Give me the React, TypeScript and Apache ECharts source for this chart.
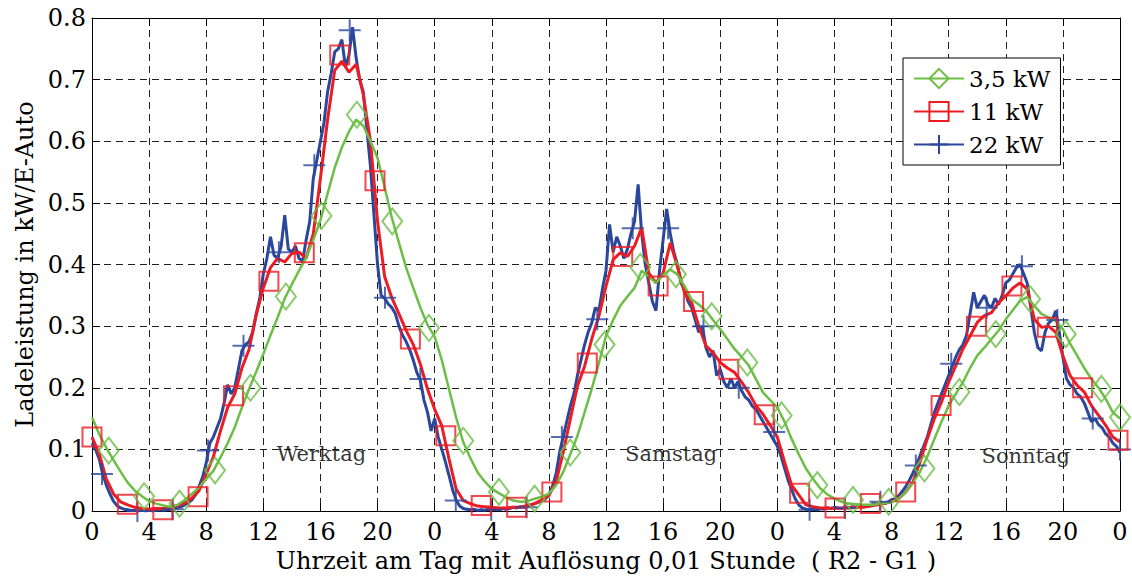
import React, { useEffect, useRef } from 'react';
import * as echarts from 'echarts';

// ---- time grids (hours over three days) ----
const hoursHalf: number[] = Array.from({ length: 145 }, (_, i) => i * 0.5);
const hoursQuarter: number[] = Array.from({ length: 289 }, (_, i) => i * 0.25);

// ---- 3,5 kW (green), 0.5 h steps ----
const green35: number[] = [
  0.152, 0.125, 0.103, 0.083, 0.064, 0.046, 0.033, 0.024,
  0.016, 0.012, 0.009, 0.007, 0.010, 0.018, 0.028, 0.038,
  0.052, 0.065, 0.087, 0.110, 0.136, 0.168, 0.198, 0.226,
  0.255, 0.285, 0.314, 0.345, 0.368, 0.390, 0.411, 0.440,
  0.472, 0.515, 0.557, 0.590, 0.616, 0.635, 0.625, 0.600,
  0.573, 0.525, 0.476, 0.435, 0.395, 0.362, 0.330, 0.302,
  0.283, 0.245, 0.198, 0.152, 0.112, 0.086, 0.063, 0.048,
  0.036, 0.029, 0.022, 0.017, 0.015, 0.016, 0.020, 0.023,
  0.028, 0.042, 0.063, 0.092, 0.122, 0.160, 0.198, 0.240,
  0.284, 0.310, 0.333, 0.348, 0.362, 0.390, 0.380, 0.370,
  0.383, 0.392, 0.384, 0.365, 0.343, 0.335, 0.325, 0.310,
  0.295, 0.279, 0.263, 0.250, 0.236, 0.214, 0.192, 0.180,
  0.168, 0.145, 0.117, 0.092, 0.069, 0.052, 0.037, 0.027,
  0.020, 0.015, 0.012, 0.011, 0.010, 0.010, 0.011, 0.013,
  0.014, 0.020, 0.031, 0.046, 0.064, 0.088, 0.117, 0.145,
  0.171, 0.190, 0.209, 0.232, 0.252, 0.265, 0.279, 0.293,
  0.311, 0.326, 0.341, 0.347, 0.333, 0.320, 0.314, 0.308,
  0.295, 0.272, 0.252, 0.232, 0.214, 0.200, 0.182, 0.160,
  0.150,
];

// ---- 11 kW (red), 0.5 h steps ----
const red11: number[] = [
  0.120, 0.093, 0.052, 0.028, 0.015, 0.010, 0.006, 0.004,
  0.003, 0.004, 0.004, 0.006, 0.009, 0.013, 0.021, 0.033,
  0.060, 0.088, 0.130, 0.168, 0.190, 0.232, 0.262, 0.318,
  0.362, 0.395, 0.410, 0.404, 0.418, 0.420, 0.410, 0.450,
  0.540, 0.635, 0.715, 0.730, 0.712, 0.725, 0.676, 0.600,
  0.470, 0.380, 0.346, 0.320, 0.293, 0.270, 0.238, 0.198,
  0.165, 0.138, 0.085, 0.036, 0.017, 0.012, 0.008, 0.007,
  0.006, 0.005, 0.005, 0.006, 0.006, 0.009, 0.012, 0.018,
  0.025, 0.047, 0.095, 0.149, 0.203, 0.235, 0.279, 0.316,
  0.365, 0.408, 0.419, 0.413, 0.430, 0.460, 0.386, 0.370,
  0.386, 0.435, 0.397, 0.354, 0.338, 0.300, 0.268, 0.257,
  0.241, 0.232, 0.225, 0.209, 0.192, 0.171, 0.157, 0.139,
  0.120, 0.080, 0.042, 0.026, 0.010, 0.007, 0.005, 0.005,
  0.004, 0.005, 0.005, 0.006, 0.006, 0.008, 0.010, 0.012,
  0.015, 0.020, 0.031, 0.047, 0.080, 0.117, 0.150, 0.177,
  0.209, 0.236, 0.263, 0.284, 0.306, 0.317, 0.322, 0.338,
  0.349, 0.362, 0.370, 0.360, 0.311, 0.298, 0.300, 0.290,
  0.252, 0.220, 0.204, 0.193, 0.171, 0.155, 0.139, 0.120,
  0.112,
];

// ---- 22 kW (blue), 0.25 h steps ----
const blue22: number[] = [
  0.110, 0.100, 0.085, 0.060, 0.042, 0.028, 0.016, 0.009,
  0.005, 0.003, 0.002, 0.001, 0.001, 0.000, 0.001, 0.000,
  0.001, 0.000, 0.001, 0.002, 0.001, 0.002, 0.003, 0.004,
  0.006, 0.007, 0.010, 0.014, 0.018, 0.026, 0.040, 0.055,
  0.078, 0.110, 0.120, 0.135, 0.150, 0.175, 0.205, 0.190,
  0.200, 0.230, 0.260, 0.270, 0.275, 0.290, 0.320, 0.345,
  0.385, 0.410, 0.445, 0.415, 0.410, 0.430, 0.480, 0.425,
  0.420, 0.430, 0.410, 0.405, 0.440, 0.470, 0.540, 0.570,
  0.600, 0.630, 0.680, 0.710, 0.745, 0.750, 0.765, 0.720,
  0.740, 0.785, 0.735, 0.700, 0.680, 0.620, 0.560, 0.480,
  0.400, 0.350, 0.345, 0.336, 0.330, 0.320, 0.300, 0.285,
  0.275, 0.262, 0.245, 0.225, 0.212, 0.180, 0.160, 0.130,
  0.150, 0.120, 0.100, 0.080, 0.058, 0.035, 0.018, 0.008,
  0.004, 0.003, 0.002, 0.003, 0.001, 0.002, 0.001, 0.003,
  0.002, 0.003, 0.002, 0.004, 0.003, 0.004, 0.006, 0.005,
  0.007, 0.006, 0.008, 0.010, 0.012, 0.014, 0.016, 0.020,
  0.026, 0.040, 0.060, 0.095, 0.120, 0.145, 0.170, 0.190,
  0.220, 0.245, 0.270, 0.290, 0.305, 0.330, 0.325, 0.360,
  0.390, 0.465, 0.420, 0.445, 0.430, 0.410, 0.425, 0.450,
  0.470, 0.530, 0.450, 0.400, 0.370, 0.340, 0.325, 0.390,
  0.440, 0.490, 0.450, 0.420, 0.400, 0.370, 0.360, 0.340,
  0.330, 0.310, 0.290, 0.300, 0.265, 0.250, 0.260, 0.220,
  0.230, 0.210, 0.200, 0.215, 0.200, 0.210, 0.195, 0.185,
  0.180, 0.170, 0.165, 0.155, 0.145, 0.135, 0.125, 0.115,
  0.105, 0.090, 0.070, 0.050, 0.035, 0.020, 0.010, 0.005,
  0.003, 0.002, 0.003, 0.002, 0.004, 0.003, 0.005, 0.004,
  0.006, 0.005, 0.004, 0.006, 0.005, 0.007, 0.006, 0.008,
  0.007, 0.009, 0.008, 0.012, 0.010, 0.014, 0.012, 0.015,
  0.018, 0.020, 0.025, 0.032, 0.040, 0.050, 0.062, 0.075,
  0.090, 0.105, 0.120, 0.140, 0.160, 0.175, 0.190, 0.205,
  0.220, 0.235, 0.250, 0.262, 0.270, 0.285, 0.320, 0.355,
  0.330, 0.340, 0.350, 0.335, 0.330, 0.345, 0.335, 0.350,
  0.370, 0.375, 0.385, 0.395, 0.400, 0.385, 0.370, 0.330,
  0.290, 0.265, 0.260, 0.290, 0.305, 0.310, 0.325, 0.290,
  0.250, 0.215, 0.205, 0.200, 0.190, 0.185, 0.175, 0.160,
  0.145, 0.150, 0.140, 0.135, 0.125, 0.120, 0.110, 0.105,
  0.095,
];

// ---- marker positions (hours) and values ----
const greenMarkerHours = [1.17, 3.65, 6.13, 8.62, 11.1, 13.58, 16.07, 18.55, 21.03, 23.6, 26.0, 28.5, 31.0, 33.5, 35.9, 38.4, 40.9, 43.4, 45.9, 48.3, 50.8, 53.3, 55.8, 58.3, 60.75, 63.3, 65.7, 68.2, 70.7, 72];
const greenMarkerValues = [0.098, 0.024, 0.012, 0.066, 0.2, 0.348, 0.479, 0.643, 0.47, 0.297, 0.114, 0.031, 0.02, 0.095, 0.27, 0.396, 0.384, 0.316, 0.241, 0.155, 0.042, 0.018, 0.015, 0.069, 0.193, 0.287, 0.344, 0.287, 0.198, 0.152];
const redMarkerHours = [0, 2.48, 4.96, 7.43, 9.91, 12.39, 14.87, 17.35, 19.82, 22.3, 24.78, 27.26, 29.74, 32.21, 34.69, 37.17, 39.65, 42.13, 44.6, 47.08, 49.56, 52.04, 54.52, 56.99, 59.47, 61.95, 64.43, 66.91, 69.38, 71.86];
const redMarkerValues = [0.12, 0.011, 0.002, 0.023, 0.187, 0.373, 0.419, 0.74, 0.536, 0.279, 0.122, 0.009, 0.006, 0.031, 0.24, 0.413, 0.365, 0.34, 0.23, 0.156, 0.029, 0.005, 0.012, 0.031, 0.171, 0.3, 0.365, 0.298, 0.2, 0.115];
const blueMarkerHours = [0.7, 3.18, 5.66, 8.13, 10.61, 13.09, 15.57, 18.05, 20.52, 23.0, 25.48, 27.96, 30.44, 32.91, 35.39, 37.87, 40.35, 42.83, 45.3, 47.78, 50.26, 52.74, 55.22, 57.7, 60.18, 62.66, 65.13, 67.61, 70.09, 72];
const blueMarkerValues = [0.06, 0, 0.003, 0.098, 0.268, 0.42, 0.561, 0.78, 0.346, 0.214, 0.017, 0.002, 0.006, 0.12, 0.311, 0.459, 0.459, 0.3, 0.2, 0.128, 0.002, 0.005, 0.015, 0.074, 0.239, 0.33, 0.397, 0.31, 0.15, 0.1];

// ---- annotations ----
const dayNames = ['Werktag', 'Samstag', 'Sonntag'];
const dayLabelHours = [16.07, 40.56, 65.4];
const dayLabelValues = [0.092, 0.092, 0.09];

const seriesNames = ['3,5 kW', '11 kW', '22 kW'];
const xTitle = 'Uhrzeit am Tag mit Auflösung 0,01 Stunde  ( R2 - G1 )';
const yTitle = 'Ladeleistung in kW/E-Auto';

const GREEN = '#6cbe45';
const RED = '#ec1c24';
const BLUE = '#2b479c';
const FONT = 'DejaVu Serif';
const PLUS = 'path://M0,10L20,10M10,0L10,20';

const zip = (xs: number[], ys: number[]) => xs.map((x, i) => [x, ys[i]]);

export default function App() {
  const ref = useRef<HTMLDivElement>(null);
  useEffect(() => {
    if (!ref.current) return;
    const chart = echarts.init(ref.current, undefined, { renderer: 'svg' });
    const axisLine = { show: true, onZero: false, lineStyle: { color: '#000', width: 1 } };
    const split = { show: true, lineStyle: { color: '#222', width: 1, type: [7, 5] as any } };
    const markerStyle = (c: string) => ({ color: 'rgba(0,0,0,0)', borderColor: c, borderWidth: 2 });
    chart.setOption({
      animation: false,
      backgroundColor: '#fff',
      grid: { left: 92, right: 12, top: 18, bottom: 66, containLabel: false },
      legend: {
        data: [
          { name: seriesNames[0], itemStyle: markerStyle(GREEN), lineStyle: { color: GREEN, width: 2 } },
          { name: seriesNames[1], itemStyle: markerStyle(RED), lineStyle: { color: RED, width: 2 } },
          { name: seriesNames[2], itemStyle: markerStyle(BLUE), lineStyle: { color: BLUE, width: 2 } },
        ],
        orient: 'vertical',
        left: 903,
        top: 58,
        itemWidth: 50,
        itemHeight: 24,
        itemGap: 10,
        padding: [9, 10, 9, 10],
        backgroundColor: '#fff',
        borderColor: '#000',
        borderWidth: 1,
        borderRadius: 0,
        selectedMode: false,
        textStyle: { fontFamily: FONT, fontSize: 23, color: '#000' },
      },
      xAxis: [
        {
          type: 'value', min: 0, max: 72, interval: 4,
          name: xTitle, nameLocation: 'middle', nameGap: 38,
          nameTextStyle: { fontFamily: FONT, fontSize: 24, color: '#000' },
          axisLine,
          axisTick: { show: true, inside: true, length: 8, lineStyle: { color: '#000' } },
          axisLabel: {
            show: true, margin: 9, fontFamily: FONT, fontSize: 24, color: '#000',
            showMinLabel: true, showMaxLabel: true,
            formatter: (v: number) => String(Math.round(v) % 24),
          },
          splitLine: split,
        },
        {
          type: 'value', min: 0, max: 72, interval: 4, position: 'top',
          axisLine,
          axisTick: { show: true, inside: true, length: 8, lineStyle: { color: '#000' } },
          axisLabel: { show: false },
          splitLine: { show: false },
        },
      ],
      yAxis: [
        {
          type: 'value', min: 0, max: 0.8, interval: 0.1,
          name: yTitle, nameLocation: 'middle', nameGap: 55,
          nameTextStyle: { fontFamily: FONT, fontSize: 24, color: '#000' },
          axisLine,
          axisTick: { show: true, inside: true, length: 8, lineStyle: { color: '#000' } },
          axisLabel: {
            show: true, margin: 6, fontFamily: FONT, fontSize: 24, color: '#000',
            formatter: (v: number) => (v === 0 ? '0' : v.toFixed(1)),
          },
          splitLine: split,
        },
        {
          type: 'value', min: 0, max: 0.8, interval: 0.1, position: 'right',
          axisLine,
          axisTick: { show: true, inside: true, length: 8, lineStyle: { color: '#000' } },
          axisLabel: { show: false },
          splitLine: { show: false },
        },
      ],
      series: [
        {
          type: 'line', name: seriesNames[2], data: zip(hoursQuarter, blue22),
          symbol: PLUS, symbolSize: 19, showSymbol: false, silent: true,
          lineStyle: { color: BLUE, width: 3 }, itemStyle: markerStyle(BLUE), z: 2,
        },
        {
          type: 'line', name: seriesNames[1], data: zip(hoursHalf, red11),
          symbol: 'rect', symbolSize: 19, showSymbol: false, silent: true,
          lineStyle: { color: RED, width: 3 }, itemStyle: markerStyle(RED), z: 3,
        },
        {
          type: 'line', name: seriesNames[0], data: zip(hoursHalf, green35),
          symbol: 'diamond', symbolSize: 19, showSymbol: false, silent: true,
          lineStyle: { color: GREEN, width: 2.5 }, itemStyle: markerStyle(GREEN), z: 4,
        },
        {
          type: 'scatter', data: zip(blueMarkerHours, blueMarkerValues), silent: true,
          symbol: PLUS, symbolSize: 22, itemStyle: markerStyle(BLUE), z: 5,
        },
        {
          type: 'scatter', data: zip(redMarkerHours, redMarkerValues), silent: true,
          symbol: 'rect', symbolSize: 19, itemStyle: markerStyle(RED), z: 6,
        },
        {
          type: 'scatter', data: zip(greenMarkerHours, greenMarkerValues), silent: true,
          symbol: 'diamond', symbolSize: [20, 26], itemStyle: markerStyle(GREEN), z: 7,
        },
        {
          type: 'scatter', silent: true, symbolSize: 1, itemStyle: { color: 'rgba(0,0,0,0)' }, z: 8,
          data: dayNames.map((n, i) => ({ name: n, value: [dayLabelHours[i], dayLabelValues[i]] })),
          label: {
            show: true, position: 'inside', formatter: '{b}',
            fontFamily: FONT, fontSize: 21, color: '#000', textBorderWidth: 0,
          },
        },
      ],
    });
    return () => chart.dispose();
  }, []);
  return (
    <div
      ref={ref}
      style={{ position: 'absolute', left: 0, top: 0, width: 1132, height: 578, background: '#fff' }}
    />
  );
}
